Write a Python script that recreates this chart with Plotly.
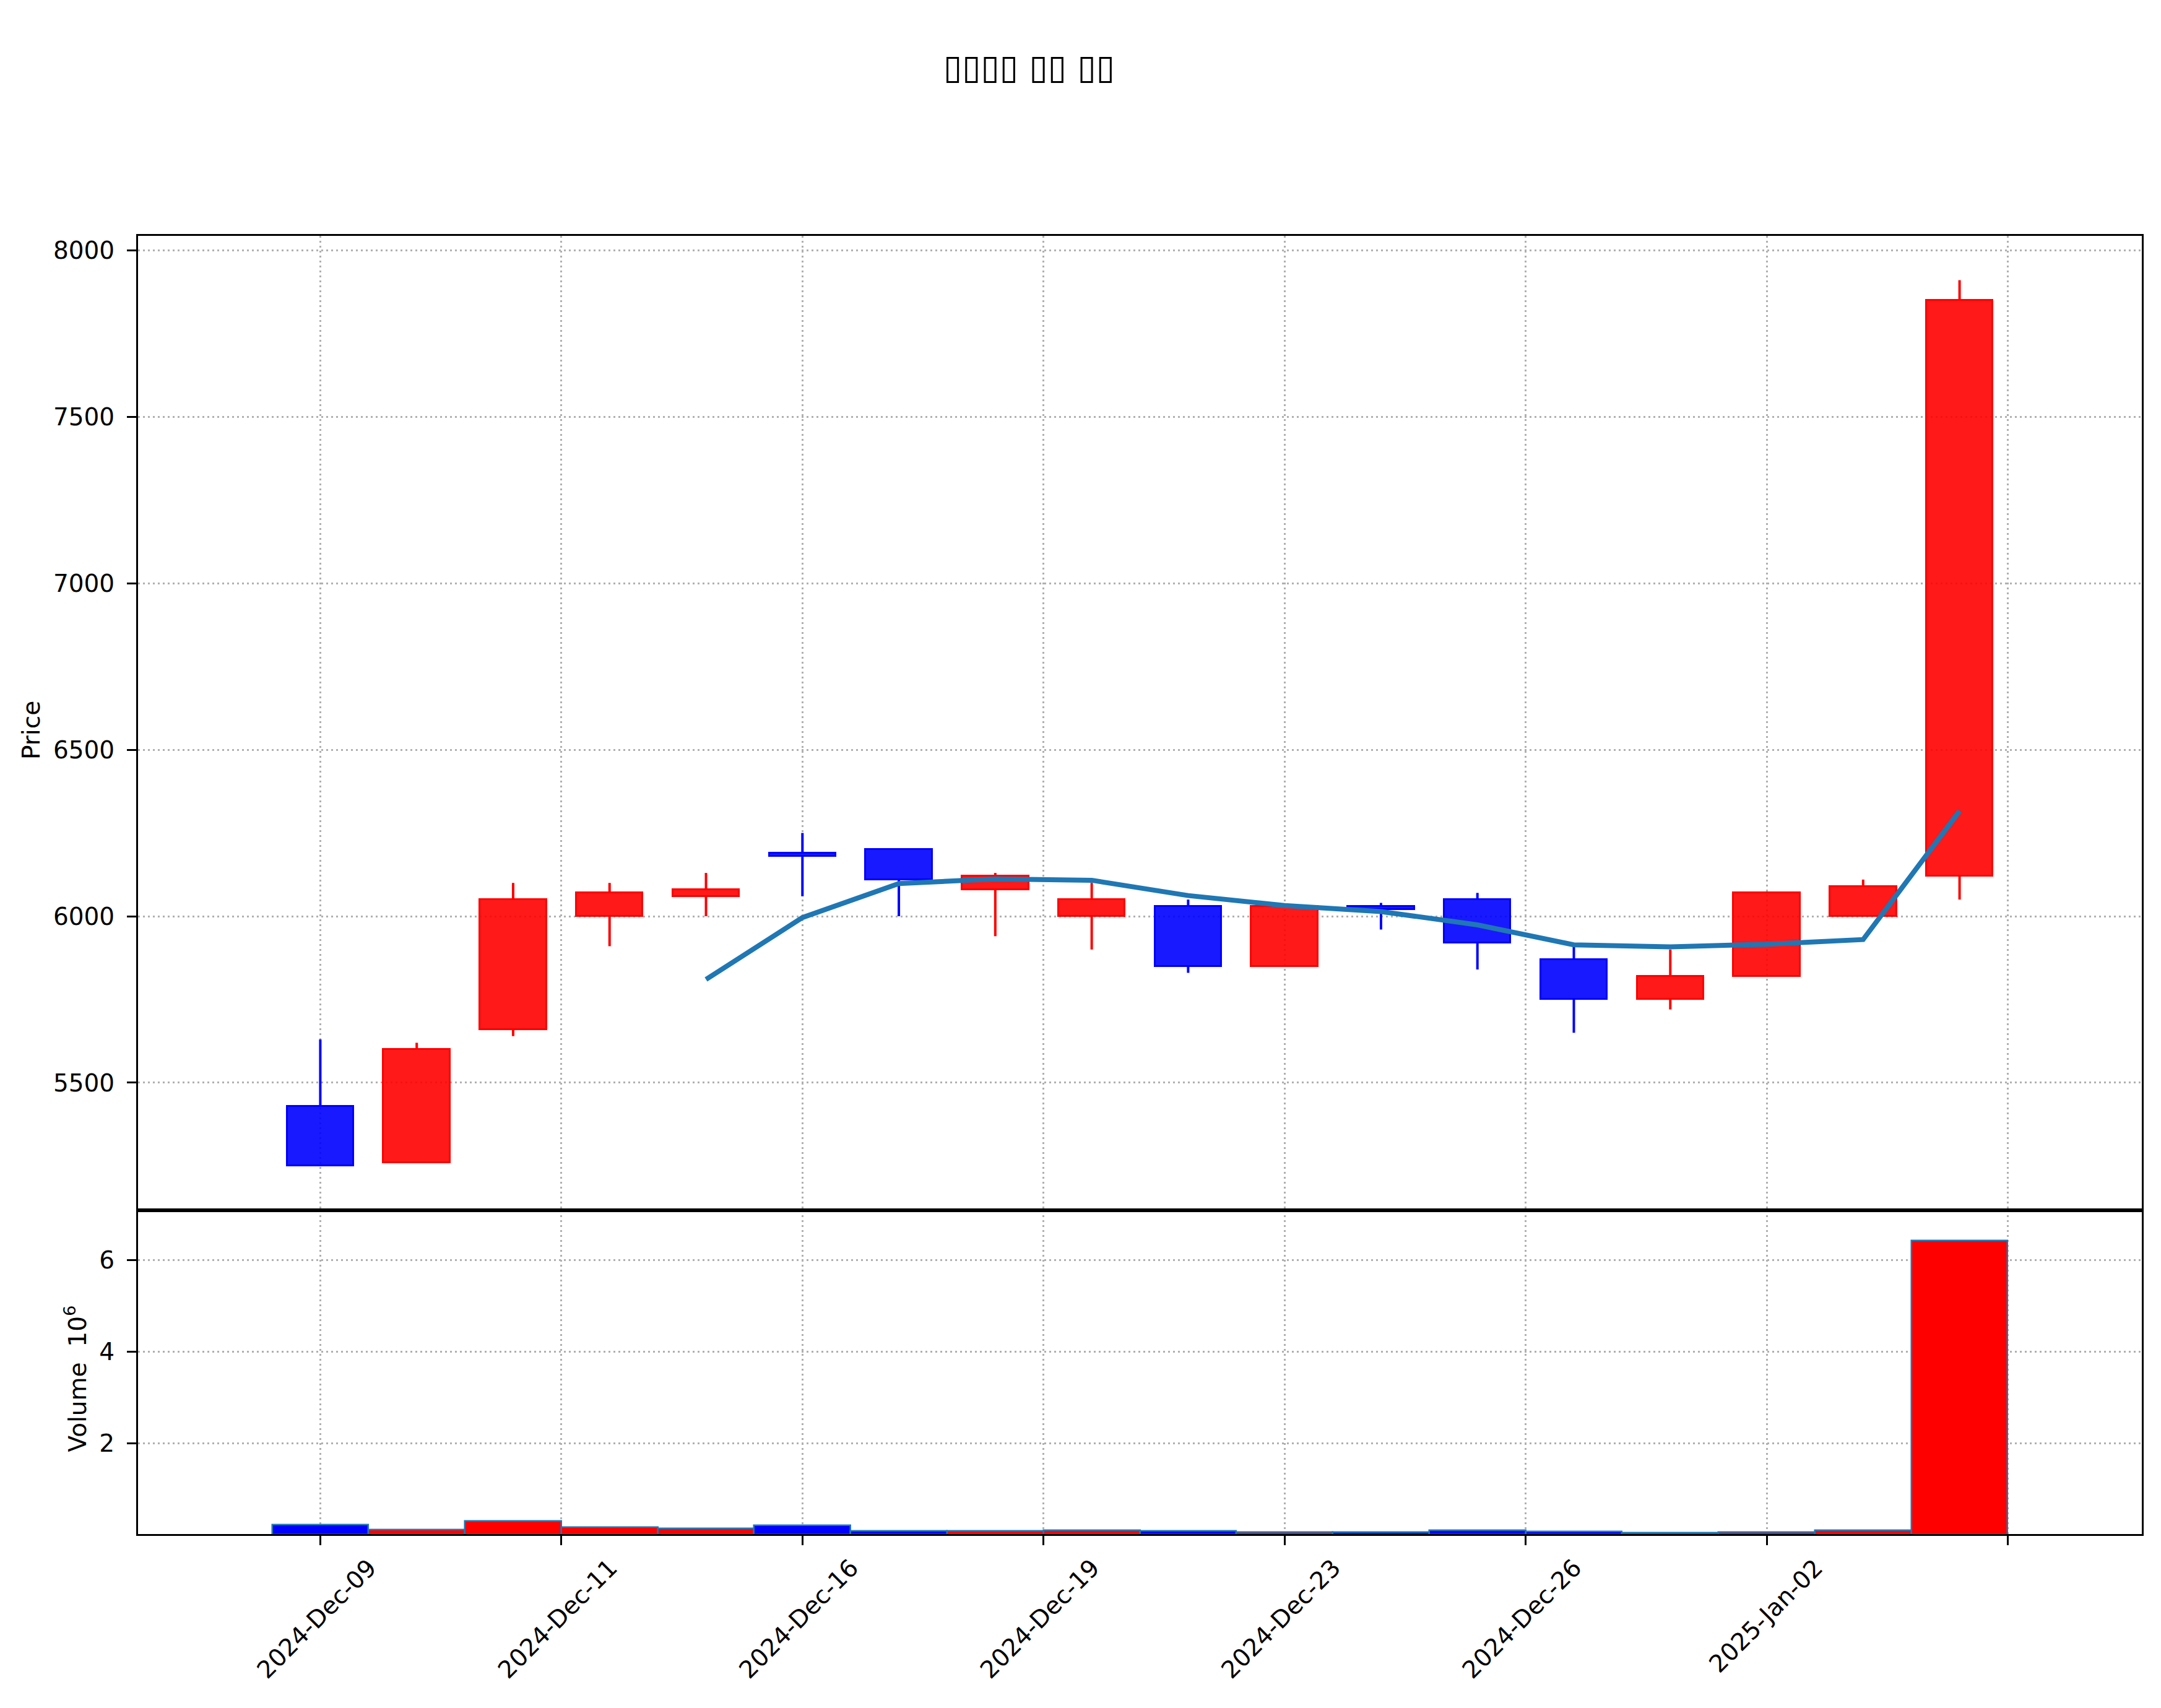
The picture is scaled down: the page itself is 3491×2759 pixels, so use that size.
import plotly.graph_objects as go
import pandas as pd

# ---------------- data ----------------
dates = ["2024-12-09", "2024-12-10", "2024-12-11", "2024-12-12", "2024-12-13",
         "2024-12-16", "2024-12-17", "2024-12-18", "2024-12-19", "2024-12-20",
         "2024-12-23", "2024-12-24", "2024-12-26", "2024-12-27", "2024-12-30",
         "2025-01-02", "2025-01-03", "2025-01-06"]
opens = [5430, 5260, 5660, 6000, 6060, 6190, 6200, 6080, 6000, 6030,
         5850, 6030, 6050, 5870, 5750, 5820, 6000, 6120]
highs = [5630, 5620, 6100, 6100, 6130, 6250, 6200, 6130, 6100, 6050,
         6030, 6040, 6070, 5910, 5900, 6070, 6110, 7910]
lows = [5250, 5260, 5640, 5910, 6000, 6060, 6000, 5940, 5900, 5830,
        5850, 5960, 5840, 5650, 5720, 5820, 6000, 6050]
closes = [5250, 5600, 6050, 6070, 6080, 6180, 6110, 6120, 6050, 5850,
          6030, 6020, 5920, 5750, 5820, 6070, 6090, 7850]
volumes = [220000, 115000, 300000, 170000, 140000, 210000, 80000, 80000, 100000, 87000,
           60000, 60000, 100000, 70000, 40000, 60000, 100000, 6430000]
title_text = "▯▯▯▯ ▯▯ ▯▯"
mav_period = 5
price_ticks = [5500, 6000, 6500, 7000, 7500, 8000]
volume_ticks = [2e6, 4e6, 6e6]
volume_tick_labels = ["2", "4", "6"]

# ---------------- derived ----------------
n = len(dates)
idx = list(range(n))
mav = pd.Series(closes).rolling(mav_period).mean()
dts = pd.to_datetime(dates)

all_tickpos = [i * 2.5 for i in range(8)]
tickpos, ticklab, emptypos = [], [], []
for t in all_tickpos:
    k = int(round(t))  # banker's rounding like numpy
    if 0 <= k < n:
        tickpos.append(t)
        ticklab.append(dts[k].strftime("%Y-%b-%d"))
    else:
        emptypos.append(t)

up = [i for i in idx if closes[i] >= opens[i]]
dn = [i for i in idx if closes[i] < opens[i]]

RED, BLUE = "#ff0000", "#0000ff"
RED_F, BLUE_F = "rgba(255,0,0,0.9)", "rgba(0,0,255,0.9)"

fig = go.Figure()

# wicks (upper and lower shadows only)
for sel, col in ((up, RED), (dn, BLUE)):
    wx, wy = [], []
    for i in sel:
        top = max(opens[i], closes[i])
        bot = min(opens[i], closes[i])
        if highs[i] > top:
            wx += [i, i, None]
            wy += [top, highs[i], None]
        if lows[i] < bot:
            wx += [i, i, None]
            wy += [lows[i], bot, None]
    fig.add_trace(go.Scatter(x=wx, y=wy, mode="lines", line=dict(color=col, width=4),
                             xaxis="x2", yaxis="y", hoverinfo="skip", showlegend=False))

# bodies
for sel, col, fcol in ((up, RED, RED_F), (dn, BLUE, BLUE_F)):
    fig.add_trace(go.Bar(
        x=sel,
        y=[abs(closes[i] - opens[i]) for i in sel],
        base=[min(closes[i], opens[i]) for i in sel],
        width=0.69,
        marker=dict(color=fcol, line=dict(color=col, width=3)),
        xaxis="x2", yaxis="y", showlegend=False))

# moving average
fig.add_trace(go.Scatter(x=idx, y=mav, mode="lines", line=dict(color="#1f77b4", width=8),
                         xaxis="x2", yaxis="y", showlegend=False, connectgaps=False))

# volume
for sel, col in ((up, RED), (dn, BLUE)):
    fig.add_trace(go.Bar(
        x=sel, y=[volumes[i] for i in sel], width=1.0,
        marker=dict(color=col, line=dict(color="#1f77b4", width=2.5)),
        xaxis="x", yaxis="y2", showlegend=False))

# ---------------- layout ----------------
W, H = 3491, 2759
L, R, T, B = 223, 3460, 381, 2478
DIV = 1955
pw, ph = R - L, B - T
split = (B - DIV) / ph

FONT = "DejaVu Sans"
GRID = dict(showgrid=True, gridcolor="#b0b0b0", gridwidth=3, griddash="3px,5px")
LINE = dict(showline=True, linecolor="black", linewidth=3, mirror=True, zeroline=False)
TICK = dict(ticks="outside", ticklen=15, tickwidth=3, tickcolor="black",
            tickfont=dict(family=FONT, size=39, color="black"))
MINOR_GRID = dict(tickmode="array", tickvals=emptypos, showgrid=True,
                  gridcolor="#b0b0b0", gridwidth=3, griddash="3px,5px")

xr = [-1.89, 18.89]

fig.update_layout(
    width=W, height=H,
    margin=dict(l=L, r=W - R, t=T, b=H - B),
    paper_bgcolor="white", plot_bgcolor="white",
    barmode="overlay", bargap=0,
    showlegend=False,
    font=dict(family=FONT, color="black"),
    xaxis=dict(domain=[0, 1], anchor="y2", range=xr, tickmode="array",
               tickvals=tickpos, ticktext=ticklab, tickangle=-45,
               ticklabelshift=79, ticklabelstandoff=-2,
               minor=dict(ticks="outside", ticklen=15, tickwidth=3, tickcolor="black",
                          **MINOR_GRID),
               **GRID, **LINE, **TICK),
    xaxis2=dict(domain=[0, 1], anchor="y", range=xr, matches="x",
                tickmode="array", tickvals=tickpos, showticklabels=False, ticks="",
                minor=dict(ticks="", **MINOR_GRID),
                **GRID, **LINE),
    yaxis=dict(domain=[split, 1], anchor="x2", range=[5117, 8043],
               tickmode="array", tickvals=price_ticks, ticklabelstandoff=12,
               **GRID, **LINE, **TICK),
    yaxis2=dict(domain=[0, split], anchor="x", range=[0.015e6, 7.09e6],
                tickmode="array", tickvals=volume_ticks, ticktext=volume_tick_labels,
                ticklabelstandoff=12,
                **GRID, **LINE, **TICK),
    annotations=[
        dict(text=title_text, xref="paper", yref="paper",
             x=(1662 - L) / pw, y=(B - 108) / ph, xanchor="center", yanchor="middle",
             showarrow=False, font=dict(family=FONT, size=55, color="black")),
        dict(text="Price", xref="paper", yref="paper", textangle=-90,
             x=(50 - L) / pw, y=(B - ((T + DIV) / 2 + 12)) / ph, xanchor="center", yanchor="middle",
             showarrow=False, font=dict(family=FONT, size=39, color="black")),
        dict(text="Volume  10<sup>6</sup>", xref="paper", yref="paper", textangle=-90,
             x=(122 - L) / pw, y=(B - ((DIV + B) / 2 + 11)) / ph, xanchor="center", yanchor="middle",
             showarrow=False, font=dict(family=FONT, size=39, color="black")),
    ],
)

fig.write_html("out.html")
